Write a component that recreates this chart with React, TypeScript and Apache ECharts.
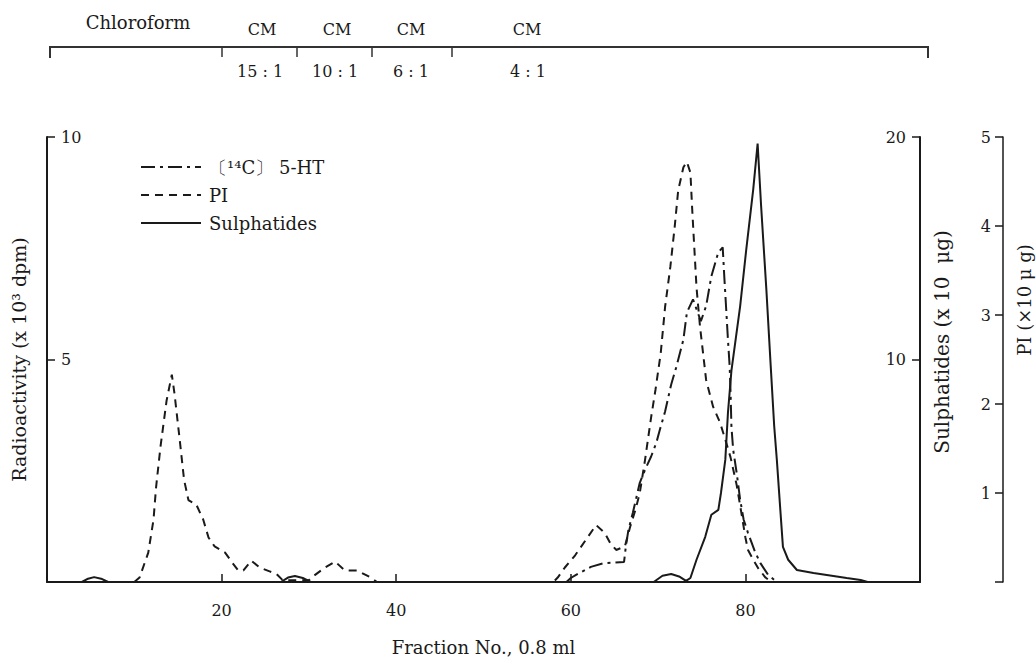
import React, { useEffect, useRef } from "react";
import * as echarts from "echarts";

// ---------- data (fraction number, value) ----------
const seriesNames = ["〔¹⁴C〕 5-HT", "PI", "Sulphatides"];

// [14C] 5-HT radioactivity (x 10^3 dpm)
const ht5: [number, number][] = [
  [59.5, 0], [60, 0.09], [60.6, 0.16], [62.3, 0.34], [63.7, 0.42], [66.1, 0.45],
  [66.3, 0.79], [66.6, 1.17], [67.1, 1.55], [67.5, 1.89], [67.9, 2.23], [68.5, 2.52],
  [69.2, 2.82], [69.8, 3.13], [70.2, 3.42], [70.8, 3.83], [71.5, 4.44], [72.1, 4.84],
  [72.9, 5.45], [73.3, 6.06], [74, 6.35], [74.9, 5.86], [75.5, 6.2], [76.1, 6.87],
  [76.9, 7.41], [77.4, 7.52], [77.6, 6.8], [77.8, 6.13], [78, 5.45], [78.2, 4.84],
  [78.3, 4.26], [78.4, 3.49], [78.6, 2.97], [79, 2.45], [79.4, 1.85], [79.8, 1.4],
  [80.3, 1.1], [81.1, 0.68], [81.7, 0.43], [82.6, 0.16], [83.6, 0],
];

// PI (x 10 ug)
const pi: [number, number][] = [
  [10, 0], [10.6, 0.05], [11.6, 0.33], [12.2, 0.7], [12.5, 1.07], [13, 1.52],
  [13.7, 2.04], [14.3, 2.33], [14.6, 2.12], [15.2, 1.6], [15.7, 1.15], [16.2, 0.92],
  [17.1, 0.87], [17.9, 0.7], [18.5, 0.5], [19.2, 0.4], [20.4, 0.33], [21.2, 0.22],
  [21.9, 0.13], [22.5, 0.13], [23.4, 0.24], [24.4, 0.16], [25.5, 0.12], [26.3, 0.09],
  [27, 0.02], [30, 0.02], [30.3, 0.05], [31.8, 0.16], [33, 0.23], [34.1, 0.13],
  [35.5, 0.13], [36.9, 0.06], [37.8, 0], [58, 0], [58.5, 0.05], [59.3, 0.16],
  [60.5, 0.3], [61.7, 0.47], [62.9, 0.64], [63.9, 0.55], [64.5, 0.44], [65.2, 0.36],
  [66.2, 0.4], [66.8, 0.62], [67.4, 0.81], [67.9, 1.0], [68.5, 1.37], [69.2, 1.85],
  [69.7, 2.16], [70.3, 2.57], [70.8, 3.09], [71.4, 3.54], [71.9, 3.99], [72.3, 4.4],
  [72.9, 4.66], [73.3, 4.72], [73.7, 4.6], [73.9, 4.2], [74.1, 3.84], [74.4, 3.31],
  [74.8, 2.87], [75.2, 2.53], [75.5, 2.27], [76.3, 1.97], [77.1, 1.79], [77.7, 1.6],
  [78.3, 1.4], [79, 1.09], [79.5, 0.8], [80, 0.5], [80.3, 0.36], [80.9, 0.25],
  [81.5, 0.15], [82.3, 0.05], [83, 0],
];

// Sulphatides (x 10 ug)
const sulph: [number, number][] = [
  [0.5, 0], [4, 0], [4.7, 0.15], [5.4, 0.22], [6.2, 0.15], [7, 0], [26.8, 0],
  [27.6, 0.2], [28.4, 0.27], [29.3, 0.18], [30.2, 0], [69.5, 0], [70.5, 0.28],
  [71.5, 0.36], [72.4, 0.25], [73.2, 0.05], [73.7, 0.18], [74.4, 1.0], [75.4, 2.03],
  [76.1, 3.02], [76.9, 3.24], [77.2, 4.0], [77.7, 5.5], [78, 7.6], [78.4, 9.5],
  [79.4, 12.4], [80.1, 14.95], [80.9, 17.66], [81.4, 19.7], [81.8, 16.9], [82.4, 13.15],
  [82.9, 9.7], [83.3, 7.0], [83.6, 5.5], [84, 3.24], [84.3, 1.58], [84.9, 1.0],
  [85.9, 0.54], [87.8, 0.4], [91.6, 0.18], [93.2, 0.09], [94, 0], [100, 0],
];

const xTicks = [20, 40, 60, 80];
const solventLabels = ["CM", "CM", "CM", "CM"];
const solventRatios = ["15 : 1", "10 : 1", "6 : 1", "4 : 1"];

const FONT = "DejaVu Serif";
const INK = "#1a1a1a";

export default function App() {
  const ref = useRef<HTMLDivElement>(null);
  useEffect(() => {
    if (!ref.current) return;
    const chart = echarts.init(ref.current, null, { renderer: "svg" });

    const labelX = [262, 337, 411, 527];
    const ratioX = [260, 335, 411, 528];
    const segTicks = [222, 297, 372, 452];

    const graphic: any[] = [
      {
        type: "polyline",
        shape: { points: [[50, 58], [50, 47], [928, 47], [928, 58]] },
        style: { stroke: "#333", lineWidth: 2, fill: null },
      },
      ...segTicks.map((x) => ({
        type: "line",
        shape: { x1: x, y1: 47, x2: x, y2: 57 },
        style: { stroke: "#333", lineWidth: 1.5 },
      })),
      {
        type: "text", x: 138, y: 22,
        style: { text: "Chloroform", font: `18px '${FONT}'`, fill: INK, textAlign: "center", textVerticalAlign: "middle" },
      },
      ...solventLabels.map((t, i) => ({
        type: "text", x: labelX[i], y: 29,
        style: { text: t, font: `16px '${FONT}'`, fill: INK, textAlign: "center", textVerticalAlign: "middle" },
      })),
      ...solventRatios.map((t, i) => ({
        type: "text", x: ratioX[i], y: 71,
        style: { text: t, font: `16px '${FONT}'`, fill: INK, textAlign: "center", textVerticalAlign: "middle" },
      })),
      {
        type: "text", x: 942, y: 342, rotation: Math.PI / 2,
        style: { text: "Sulphatides (x 10  μg)", font: `20px '${FONT}'`, fill: INK, textAlign: "center", textVerticalAlign: "middle" },
      },
      {
        type: "text", x: 1024, y: 300, rotation: Math.PI / 2,
        style: { text: "PI (×10 μ g)", font: `18px '${FONT}'`, fill: INK, textAlign: "center", textVerticalAlign: "middle" },
      },
    ];

    const axisLine = { show: true, lineStyle: { color: INK, width: 2 } };
    const axisTick = { show: true, inside: true, length: 8, lineStyle: { color: INK, width: 1.5 } };

    chart.setOption({
      animation: false,
      backgroundColor: "#fff",
      textStyle: { fontFamily: FONT },
      grid: { left: 47, right: 116, top: 137, bottom: 75, containLabel: false, outerBoundsMode: "none" },
      legend: {
        data: seriesNames,
        orient: "vertical",
        left: 135,
        top: 153,
        itemWidth: 60,
        itemHeight: 12,
        itemGap: 10,
        itemStyle: { color: "rgba(0,0,0,0)", borderColor: "rgba(0,0,0,0)", borderWidth: 0, opacity: 0 },
        textStyle: { fontFamily: FONT, fontSize: 18, color: INK, padding: [0, 0, 0, 3] },
      },
      xAxis: {
        type: "value",
        min: 0,
        max: 100,
        interval: 20,
        name: "Fraction No., 0.8 ml",
        nameLocation: "middle",
        nameGap: 56,
        nameTextStyle: { fontFamily: FONT, fontSize: 18, color: INK },
        axisLine,
        axisTick,
        splitLine: { show: false },
        axisLabel: {
          margin: 20,
          fontFamily: FONT,
          fontSize: 16,
          color: INK,
          formatter: (v: number) => (xTicks.includes(v) ? String(v) : ""),
        },
      },
      yAxis: [
        {
          type: "value",
          position: "left",
          min: 0,
          max: 10,
          interval: 5,
          name: "Radioactivity (x 10³ dpm)",
          nameLocation: "middle",
          nameGap: 19,
          nameRotate: 90,
          nameTextStyle: { fontFamily: FONT, fontSize: 19, color: INK },
          axisLine,
          axisTick,
          splitLine: { show: false },
          axisLabel: {
            inside: true, margin: 14, fontFamily: FONT, fontSize: 16, color: INK,
            formatter: (v: number) => (v === 0 ? "" : String(v)),
          },
        },
        {
          type: "value",
          position: "right",
          min: 0,
          max: 20,
          interval: 10,
          axisLine,
          axisTick,
          splitLine: { show: false },
          axisLabel: {
            inside: true, margin: 14, fontFamily: FONT, fontSize: 16, color: INK,
            formatter: (v: number) => (v === 0 ? "" : String(v)),
          },
        },
        {
          type: "value",
          position: "right",
          offset: 83,
          min: 0,
          max: 5,
          interval: 1,
          axisLine: { show: true, lineStyle: { color: INK, width: 1.5 } },
          axisTick,
          splitLine: { show: false },
          axisLabel: {
            inside: true, margin: 12, fontFamily: FONT, fontSize: 16, color: INK,
            formatter: (v: number) => (v === 0 ? "" : String(v)),
          },
        },
      ],
      series: [
        {
          name: seriesNames[0],
          type: "line",
          yAxisIndex: 0,
          data: ht5,
          symbol: "none",
          lineStyle: { color: INK, width: 2, type: [14, 5, 3, 5] },
          itemStyle: { color: INK },
        },
        {
          name: seriesNames[1],
          type: "line",
          yAxisIndex: 2,
          data: pi,
          symbol: "none",
          lineStyle: { color: INK, width: 2, type: [8, 6] },
          itemStyle: { color: INK },
        },
        {
          name: seriesNames[2],
          type: "line",
          yAxisIndex: 1,
          data: sulph,
          symbol: "none",
          lineStyle: { color: INK, width: 2, type: "solid" },
          itemStyle: { color: INK },
        },
      ],
      graphic,
    });

    return () => chart.dispose();
  }, []);

  return (
    <div
      ref={ref}
      style={{ position: "fixed", left: 0, top: 0, width: 1036, height: 657, background: "#fff" }}
    />
  );
}
